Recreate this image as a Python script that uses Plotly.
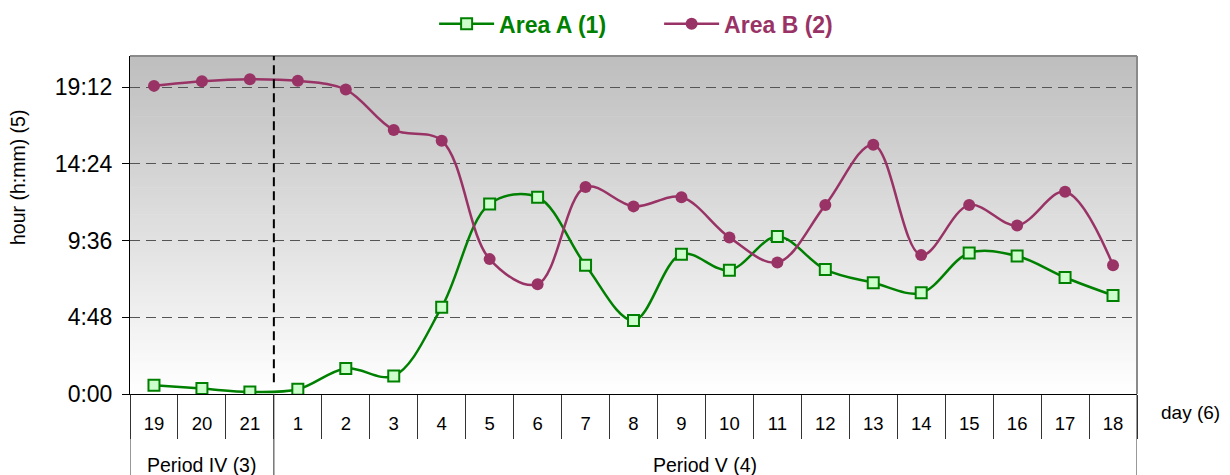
import plotly.graph_objects as go

periods = ["Period IV (3)"] * 3 + ["Period V (4)"] * 18
days = ["19", "20", "21"] + [str(d) for d in range(1, 19)]

area_a = [0.55, 0.34, 0.13, 0.30, 1.60, 1.13, 5.43, 11.89, 12.31, 8.06, 4.60,
          8.75, 7.75, 9.86, 7.79, 6.96, 6.33, 8.82, 8.63, 7.29, 6.17]
area_b = [19.28, 19.57, 19.70, 19.60, 19.05, 16.52, 15.85, 8.44, 6.87, 12.95, 11.74,
          12.31, 9.80, 8.23, 11.82, 15.60, 8.69, 11.82, 10.55, 12.66, 8.06]

y_ticks = [0, 4.8, 9.6, 14.4, 19.2]
y_max = 21.15


def hm(v):
    h = int(v)
    m = int(round((v - h) * 60))
    return f"{h}:{m:02d}"


FONT = "Liberation Sans, Arial, sans-serif"
GREEN = "#008000"
PLUM = "#993366"

fig = go.Figure()
fig.add_trace(go.Scatter(
    x=days, y=area_a, mode="lines+markers",
    name=f"<b><span style='color:{GREEN}'>Area A (1)</span></b>",
    line=dict(color=GREEN, width=2.5, shape="spline", smoothing=1.0),
    marker=dict(symbol="square", size=11, color="#ccffcc",
                line=dict(color=GREEN, width=2)),
))
fig.add_trace(go.Scatter(
    x=days, y=area_b, mode="lines+markers",
    name=f"<b><span style='color:{PLUM}'>Area B (2)</span></b>",
    line=dict(color=PLUM, width=2.5, shape="spline", smoothing=1.0),
    marker=dict(symbol="circle", size=12, color=PLUM),
))

# gradient background bands
shapes = []
n = 100
for i in range(n):
    t = i / (n - 1)
    c = int(round(255 - (255 - 190) * t))
    shapes.append(dict(type="rect", xref="x domain", yref="y domain",
                       x0=0, x1=1, y0=i / n, y1=(i + 1) / n + 0.002,
                       fillcolor=f"rgb({c},{c},{c})", line=dict(width=0),
                       layer="below"))
# top and right borders
shapes.append(dict(type="line", xref="x domain", yref="y domain",
                   x0=0, x1=1, y0=1, y1=1, line=dict(color="#8a8a8a", width=2)))
shapes.append(dict(type="line", xref="x domain", yref="y domain",
                   x0=1, x1=1, y0=0, y1=1, line=dict(color="#8a8a8a", width=2)))

# period groups: boundaries, dividers and labels
groups = []
for p in periods:
    if p not in groups:
        groups.append(p)
annotations = []
start = 0
bounds = [-0.5]
for g in groups:
    cnt = periods.count(g)
    end = start + cnt
    bounds.append(end - 0.5)
    annotations.append(dict(text=g, xref="x", yref="paper", x=(start + end - 1) / 2,
                            y=-0.21, xanchor="center", yanchor="middle", showarrow=False,
                            font=dict(size=19.5, family=FONT)))
    start = end
for b in bounds:
    shapes.append(dict(type="line", xref="x", yref="paper", x0=b, x1=b, y0=0, y1=-0.3,
                       line=dict(color="#333333", width=1)))
# dashed separator between periods inside plot
for b in bounds[1:-1]:
    shapes.append(dict(type="line", xref="x", yref="y domain", x0=b, x1=b,
                       y0=0.035, y1=1, line=dict(color="black", width=2, dash="9px,5px")))

annotations += [
    dict(text="hour (h:mm) (5)", textangle=-90, xref="paper", yref="paper",
         x=-0.1112, y=0.639, xanchor="center", yanchor="middle", showarrow=False,
         font=dict(size=19.5, family=FONT)),
    dict(text="day (6)", xref="paper", yref="paper", x=1.0218, y=-0.0547,
         xanchor="left", yanchor="middle", showarrow=False,
         font=dict(size=19, family=FONT)),
]

fig.update_layout(
    width=1222, height=467,
    margin=dict(l=122, r=93, t=48, b=81, autoexpand=False),
    paper_bgcolor="white", plot_bgcolor="white",
    font=dict(family=FONT, size=18, color="black"),
    shapes=shapes,
    annotations=annotations,
    showlegend=True,
    legend=dict(orientation="h", x=0.302, xanchor="left", y=1.095, yanchor="middle",
                font=dict(size=23, family=FONT), bgcolor="rgba(0,0,0,0)",
                itemwidth=55, entrywidth=155, entrywidthmode="pixels"),
)

fig.update_xaxes(
    type="category", range=[-0.5, len(days) - 0.5],
    showline=True, linecolor="black", linewidth=1,
    ticks="outside", ticklen=44, tickcolor="#333", tickson="boundaries",
    ticklabelstandoff=13,
    tickfont=dict(size=18.5, family=FONT), showgrid=False, automargin=False,
)
fig.update_yaxes(
    range=[0, y_max], tickvals=y_ticks, ticktext=[hm(v) for v in y_ticks],
    showline=True, linecolor="black", linewidth=1, ticks="outside", ticklen=7,
    tickcolor="black", showgrid=True, gridcolor="#555555", gridwidth=1,
    griddash="10px,6px", zeroline=False, tickfont=dict(size=23, family=FONT),
    ticklabelstandoff=5, automargin=False,
)

fig.write_html("out.html")
